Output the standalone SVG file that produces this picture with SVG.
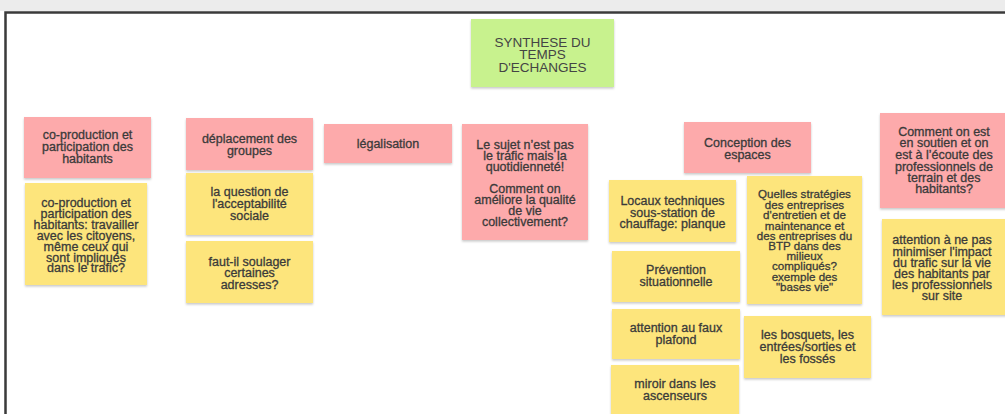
<svg xmlns="http://www.w3.org/2000/svg" width="1005" height="414" viewBox="0 0 1005 414">
<defs>
<filter id="sh" x="-10%" y="-10%" width="120%" height="130%">
<feDropShadow dx="0" dy="1.5" stdDeviation="1.2" flood-color="#000" flood-opacity="0.22"/>
</filter>
<style>
.pk{fill:#fdaaab;filter:url(#sh)}
.yl{fill:#fde57b;filter:url(#sh)}
.gr{fill:#c8f28e;filter:url(#sh)}
text{font-family:"Liberation Sans",Arial,sans-serif;font-size:12.5px;fill:#3a3a3a;stroke:#3a3a3a;stroke-width:0.3;text-anchor:middle}
.sm{font-size:11.6px}
.tt{font-size:13.5px;fill:#444;stroke:none}
</style>
</defs>
<rect x="0" y="0" width="1005" height="414" fill="#ffffff"/>
<rect x="0" y="0" width="1005" height="11" fill="#ececec"/>
<path d="M5.5 414 V12.5 H1005" fill="none" stroke="#3a3a3a" stroke-width="2.5"/>
<g id="connectors"></g>
<g id="n-synthese"><rect class="gr" x="471" y="19" width="143" height="68"/>
<text class="tt" x="542.5" y="47">SYNTHESE DU</text><text class="tt" x="542.5" y="59">TEMPS</text><text class="tt" x="542.5" y="72">D'ECHANGES</text></g>
<g id="n-coprod"><rect class="pk" x="24" y="117" width="127" height="61"/>
<text x="87.5" y="139">co-production et</text><text x="87.5" y="151">participation des</text><text x="87.5" y="163">habitants</text></g>
<g id="n-coprod2"><rect class="yl" x="25" y="183" width="122" height="102"/>
<text x="86" y="207">co-production et</text><text x="86" y="218">participation des</text><text x="86" y="229">habitants: travailler</text><text x="86" y="240">avec les citoyens,</text><text x="86" y="251">même ceux qui</text><text x="86" y="262">sont impliqués</text><text x="86" y="272">dans le trafic?</text></g>
<g id="n-deplacement"><rect class="pk" x="186" y="118" width="127" height="52"/>
<text x="249.5" y="143">déplacement des</text><text x="249.5" y="155">groupes</text></g>
<g id="n-accept"><rect class="yl" x="186" y="173" width="127" height="62"/>
<text x="249.5" y="196">la question de</text><text x="249.5" y="208">l'acceptabilité</text><text x="249.5" y="220">sociale</text></g>
<g id="n-soulager"><rect class="yl" x="186" y="241" width="127" height="62"/>
<text x="249.5" y="266">faut-il soulager</text><text x="249.5" y="277">certaines</text><text x="249.5" y="289">adresses?</text></g>
<g id="n-legal"><rect class="pk" x="324" y="124" width="128" height="39"/>
<text x="388" y="148">légalisation</text></g>
<g id="n-sujet"><rect class="pk" x="462" y="124" width="126" height="116"/>
<text x="525" y="149">Le sujet n’est pas</text><text x="525" y="160">le trafic mais la</text><text x="525" y="171">quotidienneté!</text>
<text x="525" y="193">Comment on</text><text x="525" y="204">améliore la qualité</text><text x="525" y="215">de vie</text><text x="525" y="226">collectivement?</text></g>
<g id="n-conception"><rect class="pk" x="684" y="122" width="127" height="51"/>
<text x="747.5" y="147">Conception des</text><text x="747.5" y="159">espaces</text></g>
<g id="n-locaux"><rect class="yl" x="609" y="180" width="127" height="62"/>
<text x="672.5" y="205">Locaux techniques</text><text x="672.5" y="217">sous-station de</text><text x="672.5" y="228">chauffage: planque</text></g>
<g id="n-strategies"><rect class="yl" x="747" y="176" width="115" height="128"/>
<text class="sm" x="804.5" y="198">Quelles stratégies</text><text class="sm" x="804.5" y="209">des entreprises</text><text class="sm" x="804.5" y="219">d'entretien et de</text><text class="sm" x="804.5" y="230">maintenance et</text><text class="sm" x="804.5" y="240">des entreprises du</text><text class="sm" x="804.5" y="250">BTP dans des</text><text class="sm" x="804.5" y="260">milieux</text><text class="sm" x="804.5" y="270">compliqués?</text><text class="sm" x="804.5" y="281">exemple des</text><text class="sm" x="804.5" y="291">"bases vie"</text></g>
<g id="n-prevention"><rect class="yl" x="612" y="251" width="128" height="51"/>
<text x="676" y="274">Prévention</text><text x="676" y="286">situationnelle</text></g>
<g id="n-plafond"><rect class="yl" x="612" y="309" width="128" height="50"/>
<text x="676" y="332">attention au faux</text><text x="676" y="344">plafond</text></g>
<g id="n-miroir"><rect class="yl" x="611" y="365" width="128" height="55"/>
<text x="675" y="388">miroir dans les</text><text x="675" y="400">ascenseurs</text></g>
<g id="n-bosquets"><rect class="yl" x="744" y="316" width="127" height="62"/>
<text x="807.5" y="339">les bosquets, les</text><text x="807.5" y="351">entrées/sorties et</text><text x="807.5" y="363">les fossés</text></g>
<g id="n-comment"><rect class="pk" x="880" y="113" width="130" height="95"/>
<text x="944" y="136">Comment on est</text><text x="944" y="147">en soutien et on</text><text x="944" y="159">est à l’écoute des</text><text x="944" y="171">professionnels de</text><text x="944" y="182">terrain et des</text><text x="944" y="193">habitants?</text></g>
<g id="n-attention"><rect class="yl" x="882" y="219" width="128" height="96"/>
<text x="942" y="244">attention à ne pas</text><text x="942" y="256">minimiser l'impact</text><text x="942" y="267">du trafic sur la vie</text><text x="942" y="278">des habitants par</text><text x="942" y="289">les professionnels</text><text x="942" y="300">sur site</text></g>
</svg>
